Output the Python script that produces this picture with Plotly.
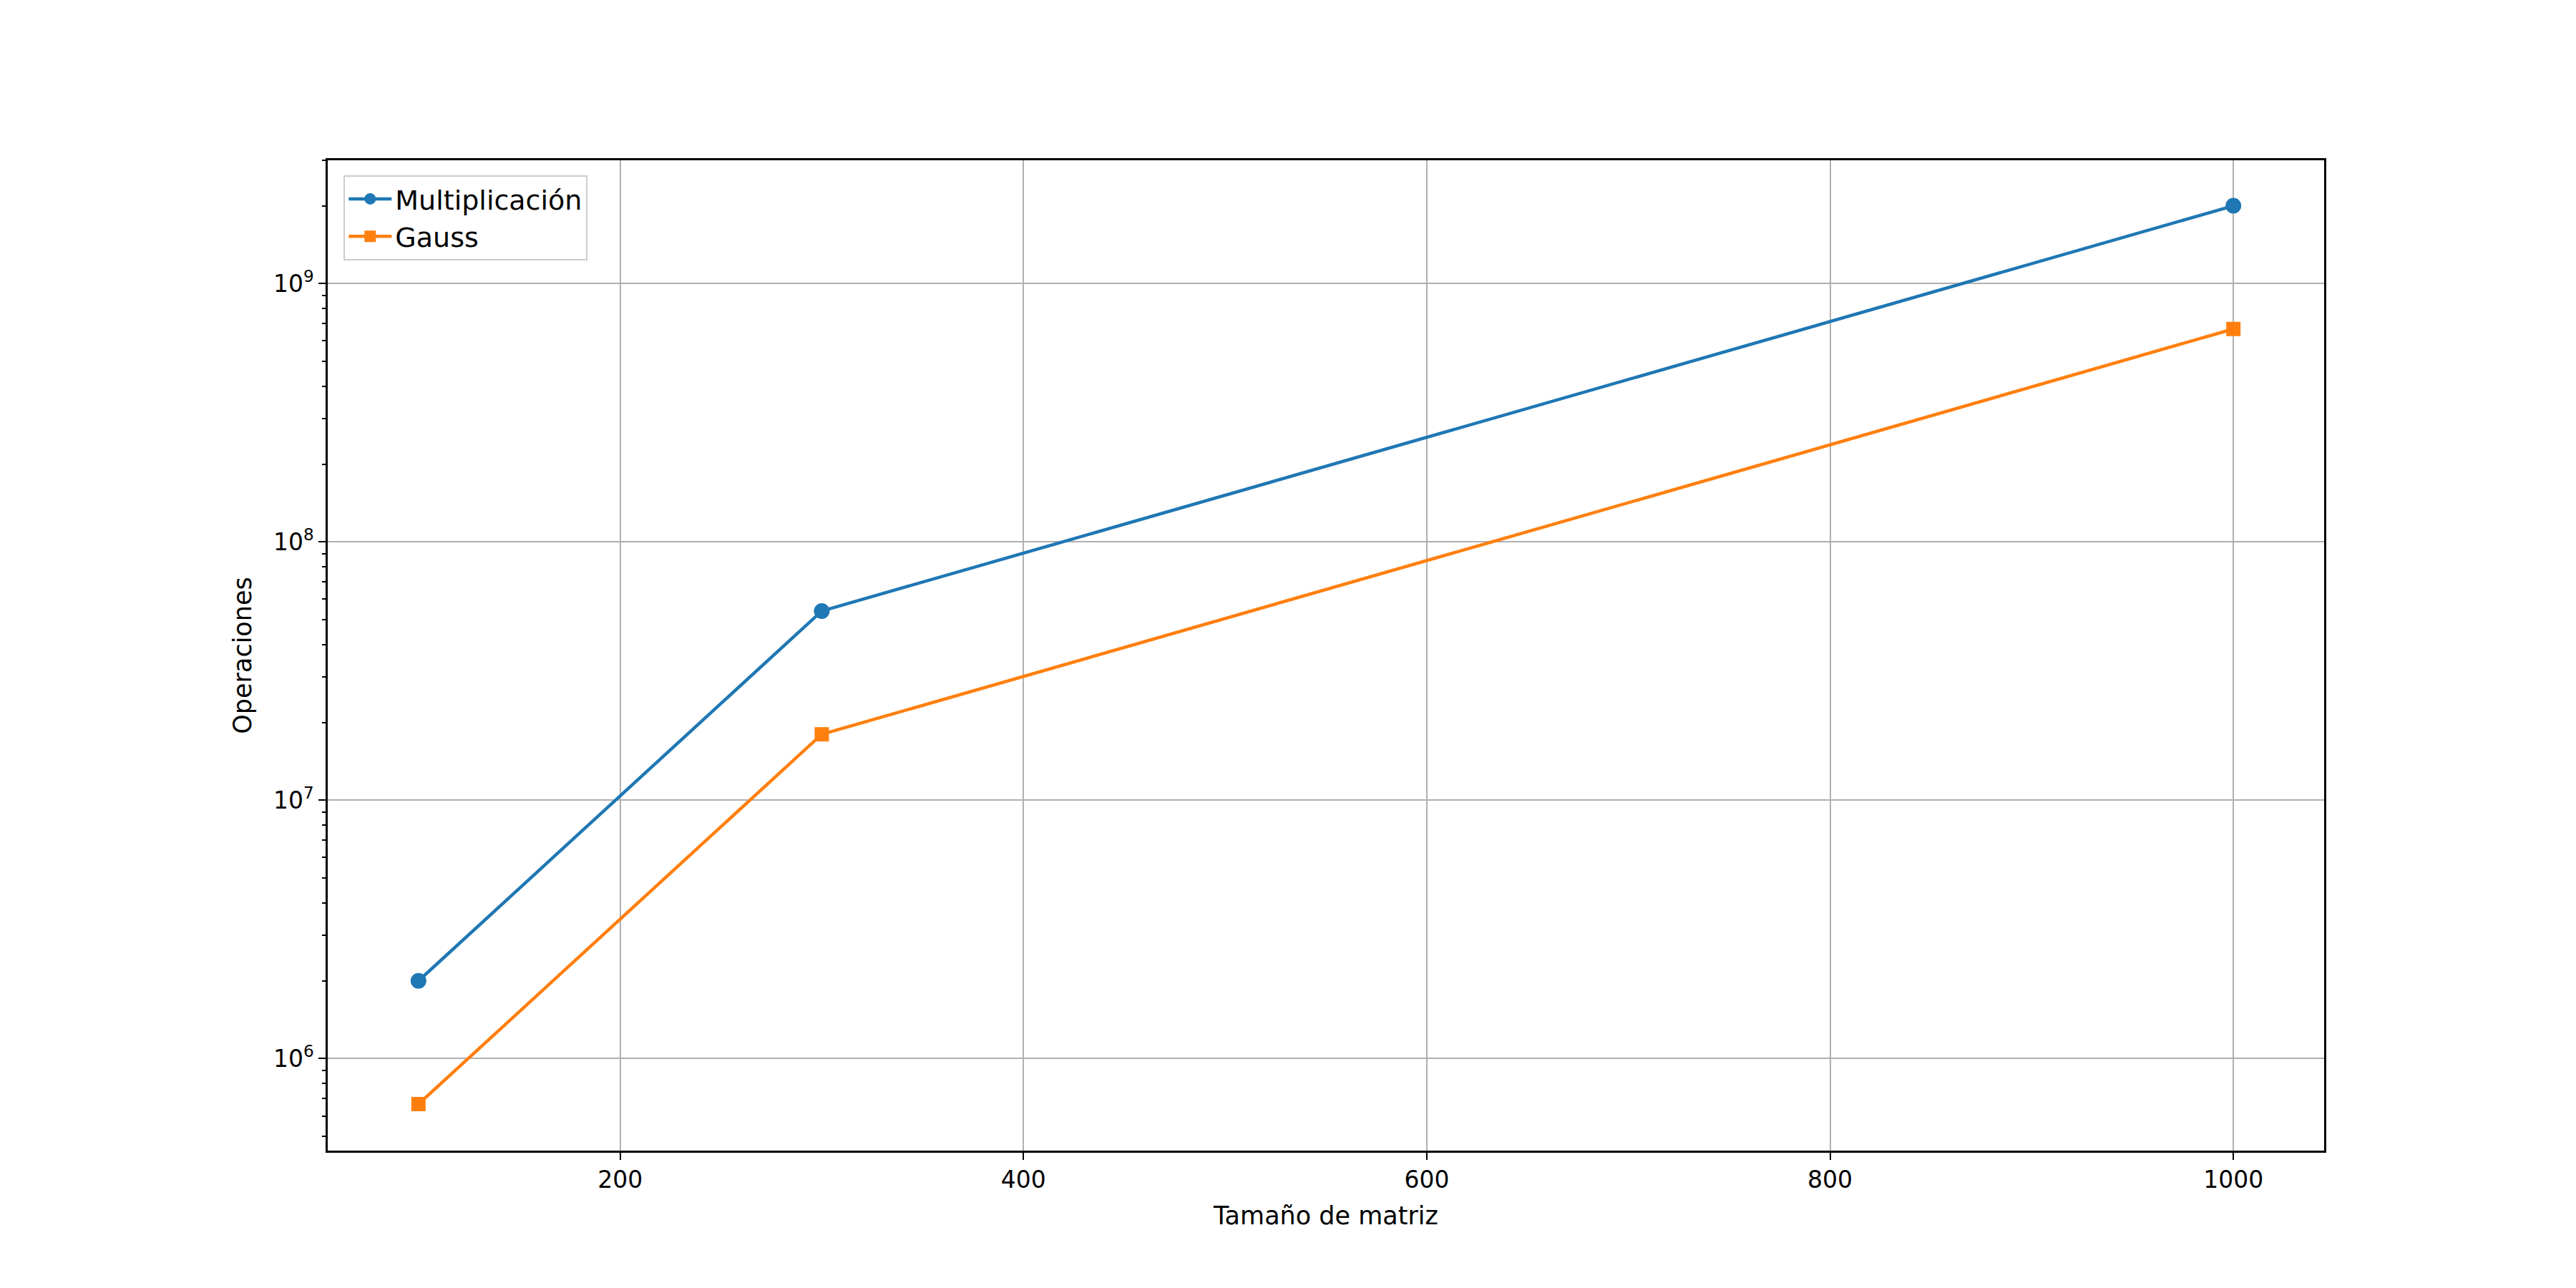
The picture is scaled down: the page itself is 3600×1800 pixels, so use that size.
import plotly.graph_objects as go

sizes = [100, 300, 1000]
mult = [2e6, 5.4e7, 2e9]
gauss = [6.67e5, 1.8e7, 6.67e8]
minor_vals = [m * 10 ** e for e in range(5, 10) for m in range(2, 10)]

fig = go.Figure()
fig.add_trace(go.Scatter(x=sizes, y=mult, mode="lines+markers", name="Multiplicación",
                         line=dict(color="#1f77b4", width=4.5), marker=dict(symbol="circle", size=22)))
fig.add_trace(go.Scatter(x=sizes, y=gauss, mode="lines+markers", name="Gauss",
                         line=dict(color="#ff7f0e", width=4.5), marker=dict(symbol="square", size=20)))

ax = dict(showline=True, linecolor="black", linewidth=2.5, mirror=True,
          showgrid=True, gridcolor="#b0b0b0", gridwidth=2, ticks="outside",
          ticklen=10, tickwidth=2, tickcolor="black", zeroline=False,
          tickfont=dict(size=33, color="black"))
fig.update_layout(
    width=3600, height=1800, plot_bgcolor="white", paper_bgcolor="white",
    font=dict(family="DejaVu Sans", size=33, color="black"),
    margin=dict(l=450, r=360, t=216, b=200, autoexpand=False),
    xaxis=dict(**ax, range=[55, 1045], tickvals=[200, 400, 600, 800, 1000],
               title=dict(text="Tamaño de matriz", font=dict(size=35), standoff=20)),
    yaxis=dict(**ax, type="log", range=[5.644, 9.477], tickvals=[1e6, 1e7, 1e8, 1e9],
               ticktext=["10<sup>6</sup>", "10<sup>7</sup>", "10<sup>8</sup>", "10<sup>9</sup>"],
               minor=dict(tickvals=minor_vals, ticks="outside", ticklen=5, tickwidth=1.5,
                          tickcolor="black", showgrid=False),
               title=dict(text="Operaciones", font=dict(size=35), standoff=20)),
    legend=dict(x=0.008, y=0.985, xanchor="left", yanchor="top", bordercolor="#cccccc",
                borderwidth=2, bgcolor="rgba(255,255,255,0.8)", font=dict(size=38),
                itemwidth=60, tracegroupgap=10),
)
fig.write_html("out.html")
